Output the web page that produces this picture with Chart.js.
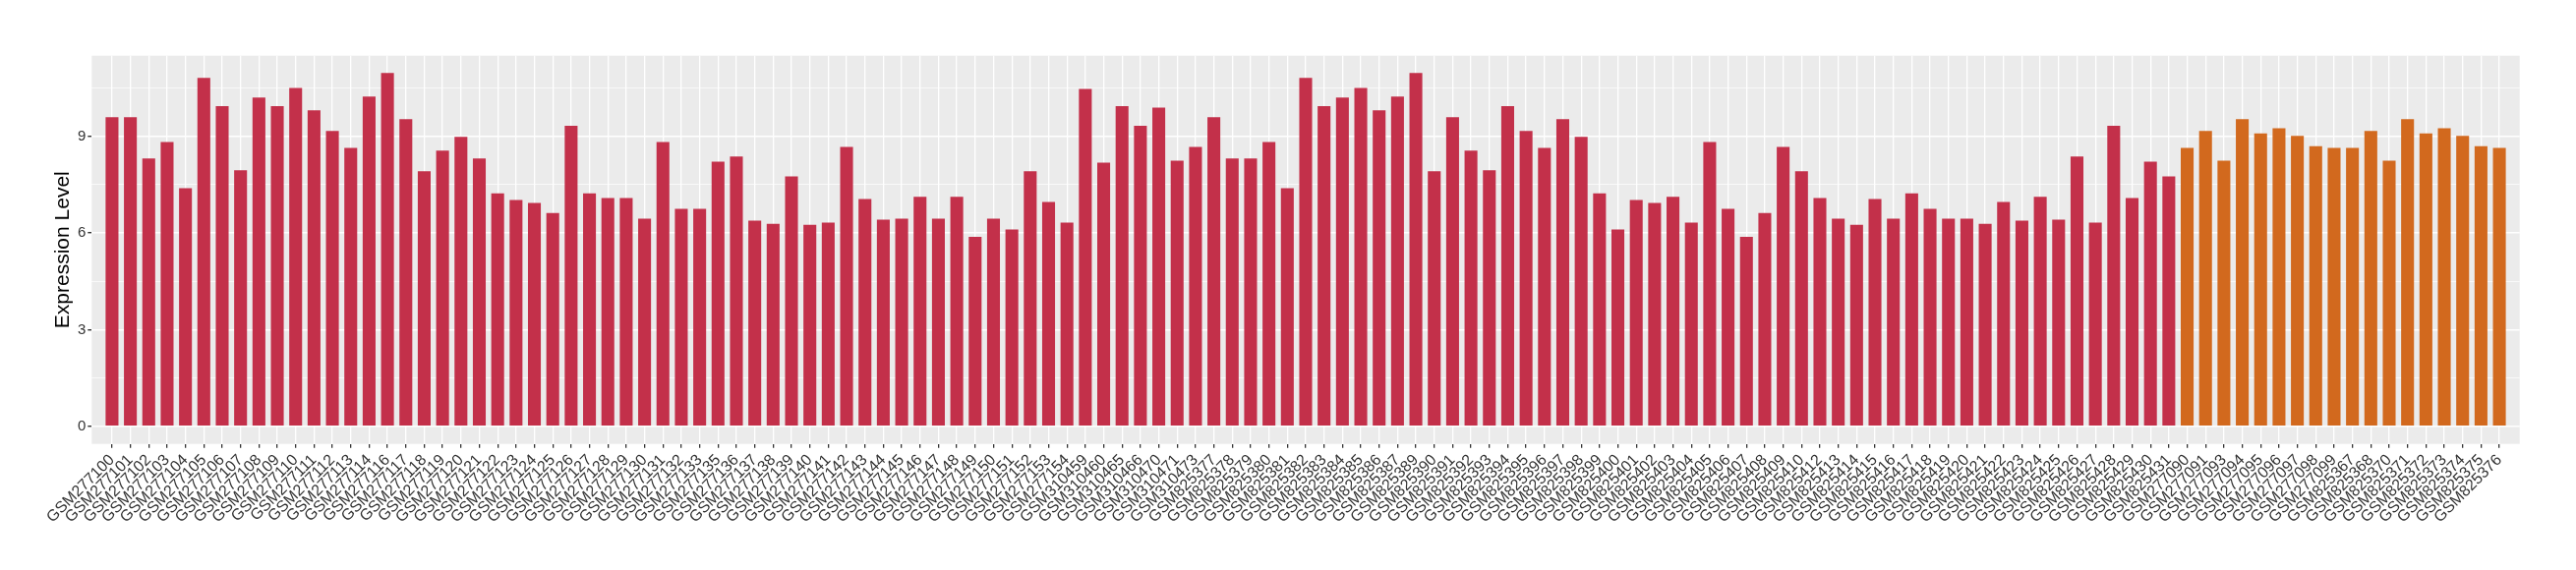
<!DOCTYPE html>
<html>
<head>
<meta charset="utf-8">
<script src="https://cdn.jsdelivr.net/npm/chart.js@4.4.1/dist/chart.umd.min.js"></script>
<style>
html,body{margin:0;padding:0;background:#ffffff;}
#wrap{width:2620px;height:580px;position:relative;}
</style>
</head>
<body>
<div id="wrap"><canvas id="c" width="2620" height="580"></canvas></div>
<script>
// ---- data ----
const redCategories = [
  "GSM277100","GSM277101","GSM277102","GSM277103","GSM277104","GSM277105","GSM277106","GSM277107","GSM277108","GSM277109",
  "GSM277110","GSM277111","GSM277112","GSM277113","GSM277114","GSM277116","GSM277117","GSM277118","GSM277119","GSM277120",
  "GSM277121","GSM277122","GSM277123","GSM277124","GSM277125","GSM277126","GSM277127","GSM277128","GSM277129","GSM277130",
  "GSM277131","GSM277132","GSM277133","GSM277135","GSM277136","GSM277137","GSM277138","GSM277139","GSM277140","GSM277141",
  "GSM277142","GSM277143","GSM277144","GSM277145","GSM277146","GSM277147","GSM277148","GSM277149","GSM277150","GSM277151",
  "GSM277152","GSM277153","GSM277154","GSM310459","GSM310460","GSM310465","GSM310466","GSM310470","GSM310471","GSM310473",
  "GSM825377","GSM825378","GSM825379","GSM825380","GSM825381","GSM825382","GSM825383","GSM825384","GSM825385","GSM825386",
  "GSM825387","GSM825389","GSM825390","GSM825391","GSM825392","GSM825393","GSM825394","GSM825395","GSM825396","GSM825397",
  "GSM825398","GSM825399","GSM825400","GSM825401","GSM825402","GSM825403","GSM825404","GSM825405","GSM825406","GSM825407",
  "GSM825408","GSM825409","GSM825410","GSM825412","GSM825413","GSM825414","GSM825415","GSM825416","GSM825417","GSM825418",
  "GSM825419","GSM825420","GSM825421","GSM825422","GSM825423","GSM825424","GSM825425","GSM825426","GSM825427","GSM825428",
  "GSM825429","GSM825430","GSM825431"
];
const redValues = [
  9.59,9.59,8.31,8.82,7.39,10.81,9.93,7.94,10.20,9.93,
  10.50,9.80,9.16,8.64,10.23,10.96,9.53,7.91,8.55,8.98,
  8.31,7.23,7.02,6.93,6.62,9.32,7.23,7.08,7.08,6.44,
  8.82,6.75,6.75,8.21,8.37,6.38,6.28,7.75,6.25,6.32,
  8.67,7.05,6.41,6.44,7.12,6.44,7.12,5.88,6.44,6.11,
  7.91,6.96,6.32,10.47,8.18,9.93,9.32,9.89,8.24,8.67,
  9.59,8.31,8.31,8.82,7.39,10.81,9.93,10.20,10.50,9.80,
  10.23,10.96,7.91,9.59,8.55,7.94,9.93,9.16,8.64,9.53,
  8.98,7.23,6.11,7.02,6.93,7.12,6.32,8.82,6.75,5.88,
  6.62,8.67,7.91,7.08,6.44,6.25,7.05,6.44,7.23,6.75,
  6.44,6.44,6.28,6.96,6.38,7.12,6.41,8.37,6.32,9.32,
  7.08,8.21,7.75
];
const orangeCategories = [
  "GSM277090","GSM277091","GSM277093","GSM277094","GSM277095","GSM277096","GSM277097","GSM277098","GSM277099",
  "GSM825367","GSM825368","GSM825370","GSM825371","GSM825372","GSM825373","GSM825374","GSM825375","GSM825376"
];
const orangeValues = [
  8.64,9.16,8.24,9.53,9.09,9.25,9.01,8.69,8.64,
  8.64,9.16,8.24,9.53,9.09,9.25,9.01,8.69,8.64
];
const yTickLabels = [0, 3, 6, 9];
const yMinorTicks = [1.5, 4.5, 7.5, 10.5];
const yTitle = "Expression Level";

// ---- styles ----
const RED = "#C3304A";
const ORANGE = "#D2691E";
const PANEL = "#EBEBEB";
const FONT = "'Liberation Sans', Arial, Helvetica, sans-serif";

const categories = redCategories.concat(orangeCategories);
const values = redValues.concat(orangeValues);
const barColors = redCategories.map(() => RED).concat(orangeCategories.map(() => ORANGE));

const AREA = { left: 93.3, right: 2562.7, top: 56.7, bottom: 451.7 };
const X_AXIS_H = 85;

const panelBg = {
  id: 'panelBg',
  beforeDraw(chart) {
    const a = chart.chartArea, ctx = chart.ctx;
    ctx.save();
    ctx.fillStyle = PANEL;
    ctx.fillRect(a.left, a.top, a.right - a.left, a.bottom - a.top);
    ctx.restore();
  }
};

new Chart(document.getElementById('c'), {
  type: 'bar',
  data: {
    datasets: [{
      data: values.map((v, i) => ({ x: i, y: v })),
      backgroundColor: barColors,
      borderWidth: 0,
      barPercentage: 0.7,
      categoryPercentage: 1.0
    }]
  },
  options: {
    responsive: false,
    animation: false,
    devicePixelRatio: 1,
    layout: { padding: { top: AREA.top, right: 2620 - AREA.right, bottom: 580 - AREA.bottom - X_AXIS_H, left: 0 } },
    plugins: { legend: { display: false }, tooltip: { enabled: false } },
    scales: {
      x: {
        type: 'linear',
        min: -0.6,
        max: categories.length - 1 + 0.6,
        afterBuildTicks: s => { s.ticks = categories.map((_, i) => ({ value: i })); },
        afterFit: s => { s.height = X_AXIS_H; },
        ticks: {
          autoSkip: false, maxRotation: 45, minRotation: 45,
          callback: v => categories[v],
          color: '#333333', font: { family: FONT, size: 16 }, padding: 3
        },
        grid: { color: '#FFFFFF', lineWidth: 1.3, tickColor: '#333333', tickLength: 4, drawTicks: true, offset: false },
        border: { display: false }
      },
      y: {
        type: 'linear',
        min: -0.5475,
        max: 11.4975,
        afterBuildTicks: s => { s.ticks = yTickLabels.concat(yMinorTicks).sort((a, b) => a - b).map(v => ({ value: v })); },
        afterFit: s => { s.width = AREA.left; },
        ticks: {
          callback: v => yTickLabels.includes(v) ? String(v) : '',
          color: '#333333', font: { family: FONT, size: 15 }, padding: 2
        },
        grid: {
          color: '#FFFFFF',
          lineWidth: c => yTickLabels.includes(c.tick.value) ? 1.4 : 0.7,
          tickColor: c => yTickLabels.includes(c.tick.value) ? '#333333' : 'rgba(0,0,0,0)',
          tickLength: 4, drawTicks: true
        },
        border: { display: false },
        title: { display: true, text: yTitle, color: '#000000', font: { family: FONT, size: 21 }, padding: { top: 52, bottom: 0 } }
      }
    }
  },
  plugins: [panelBg]
});
</script>
</body>
</html>
